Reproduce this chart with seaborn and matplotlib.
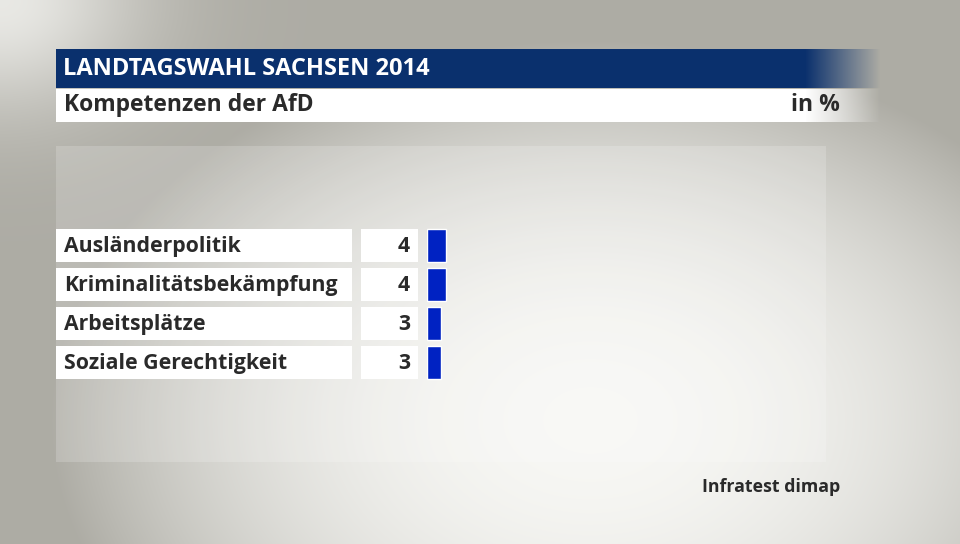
import numpy as np
import pandas as pd
import matplotlib
matplotlib.use("Agg")
import matplotlib.pyplot as plt
import matplotlib.transforms as mtrans
from matplotlib.patches import Rectangle
import seaborn as sns

# === Data ===
topics = ["Ausländerpolitik", "Kriminalitätsbekämpfung", "Arbeitsplätze", "Soziale Gerechtigkeit"]
values = [4, 4, 3, 3]
title = "LANDTAGSWAHL SACHSEN 2014"
subtitle = "Kompetenzen der AfD"
unit = "in %"
source = "Infratest dimap"

df = pd.DataFrame({"topic": topics, "value": values})

sns.set_theme(style="white")
plt.rcParams["font.family"] = ["Open Sans", "DejaVu Sans"]

W, H = 960, 544
fig = plt.figure(figsize=(9.6, 5.44), dpi=100)

# === Background: soft grey gradient with a light centre ===
bg = fig.add_axes([0, 0, 1, 1])
yy, xx = np.mgrid[0:H, 0:W]
d = np.sqrt(((xx - 590) / 540.0) ** 2 + ((yy - 420) / 380.0) ** 2)
d = np.clip(d, 0, 1) ** 2.2
corner = np.exp(-((xx / 140.0) ** 2 + (yy / 110.0) ** 2))
d = d * (1 - 0.8 * corner)
light = np.array([0.97, 0.97, 0.958])
dark = np.array([0.68, 0.675, 0.645])
img = light[None, None, :] * (1 - d[..., None]) + dark[None, None, :] * d[..., None]
bg.imshow(img, extent=[0, W, H, 0], aspect="auto", zorder=0)

# faint lighter panel behind the chart
bg.add_patch(Rectangle((56, 146), 770, 316, color="white", alpha=0.18, lw=0, zorder=1))


def fading_band(y0, y1, rgb, x0=56, x_fade=805, x1=880):
    xs = np.arange(x0, x1)
    a = np.clip((x1 - xs) / (x1 - x_fade), 0, 1)
    band = np.zeros((1, len(xs), 4))
    band[0, :, :3] = rgb
    band[0, :, 3] = a
    bg.imshow(band, extent=[x0, x1, y1, y0], aspect="auto", zorder=2)


fading_band(49, 88, np.array([0.04, 0.19, 0.43]))
fading_band(89, 122, np.array([1.0, 1.0, 1.0]))
bg.set_xlim(0, W)
bg.set_ylim(H, 0)
bg.axis("off")

txt = "#2a2a2a"
bg.text(63, 69, title, color="white", fontsize=17, fontweight="bold",
        va="center", ha="left", zorder=3)
bg.text(64, 105, subtitle, color=txt, fontsize=16.5, fontweight="bold",
        va="center", ha="left", zorder=3)
bg.text(840, 105, unit, color=txt, fontsize=16.5, fontweight="bold",
        va="center", ha="right", zorder=3)
bg.text(840, 487, source, color=txt, fontsize=12.8, fontweight="bold",
        va="center", ha="right", zorder=3)

# === Bars ===
row = 39
top = 226
ax = fig.add_axes([427 / W, 1 - (top + row * len(topics)) / H, 475 / W, row * len(topics) / H])
ax.patch.set_alpha(0)
sns.barplot(data=df, x="value", y="topic", order=topics, color="#0022c2",
            width=33 / 39, saturation=1, ax=ax)
ax.set_xlim(0, 100)
ax.set_ylim(len(topics) - 0.5, -0.5)
ax.axis("off")

# label boxes and value boxes: x in figure pixels, y in data units
tr = mtrans.blended_transform_factory(
    mtrans.Affine2D().scale(1.0 / W, 1.0) + fig.transFigure, ax.transData)
h = 33 / 39
for i, (t, v) in enumerate(zip(topics, values)):
    ax.add_patch(Rectangle((56, i - h / 2), 296, h, transform=tr, color="white",
                           lw=0, clip_on=False, zorder=1))
    ax.add_patch(Rectangle((361, i - h / 2), 57, h, transform=tr, color="white",
                           lw=0, clip_on=False, zorder=1))
    ax.text(64, i + 0.02, t, transform=tr, color=txt, fontsize=15.3,
            fontweight="bold", va="center", ha="left", zorder=2)
    ax.text(410, i + 0.02, str(v), transform=tr, color=txt, fontsize=15.3,
            fontweight="bold", va="center", ha="right", zorder=2)

fig.savefig("out.png", dpi=100)
